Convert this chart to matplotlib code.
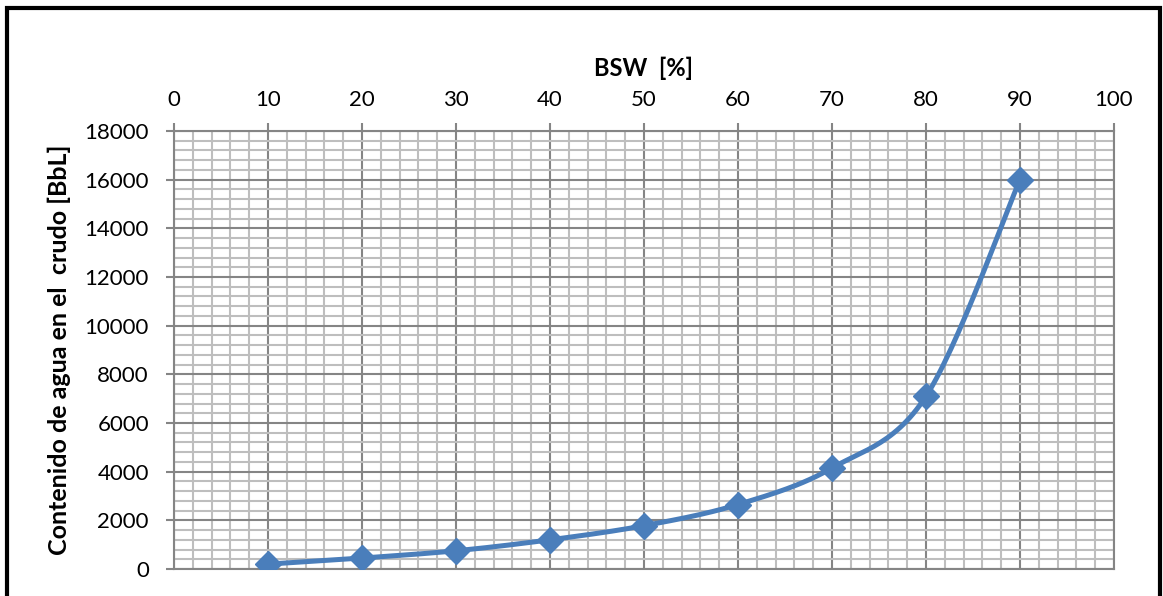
import numpy as np
import matplotlib
matplotlib.use("Agg")
import matplotlib.pyplot as plt
from matplotlib.patches import Rectangle
from matplotlib.ticker import MultipleLocator

bsw = [10, 20, 30, 40, 50, 60, 70, 80, 90]
agua = [200, 450, 750, 1200, 1780, 2650, 4150, 7100, 16000]


def smooth_curve(x, y, n=30):
    # Catmull-Rom style bezier through the points (like a spreadsheet smoothed line)
    x = np.asarray(x, float)
    y = np.asarray(y, float)
    px = np.concatenate([[x[0]], x, [x[-1]]])
    py = np.concatenate([[y[0]], y, [y[-1]]])
    xs, ys = [], []
    t = np.linspace(0, 1, n)
    for i in range(1, len(px) - 2):
        p0 = np.array([px[i], py[i]])
        p3 = np.array([px[i + 1], py[i + 1]])
        c1 = p0 + (np.array([px[i + 1], py[i + 1]]) - np.array([px[i - 1], py[i - 1]])) / 6
        c2 = p3 - (np.array([px[i + 2], py[i + 2]]) - np.array([px[i], py[i]])) / 6
        b = ((1 - t) ** 3)[:, None] * p0 + (3 * (1 - t) ** 2 * t)[:, None] * c1 \
            + (3 * (1 - t) * t ** 2)[:, None] * c2 + (t ** 3)[:, None] * p3
        xs.extend(b[:, 0])
        ys.extend(b[:, 1])
    return xs, ys


plt.rcParams['font.family'] = ['Lato', 'DejaVu Sans']

fig = plt.figure(figsize=(11.63, 5.96), dpi=100)
ax = fig.add_axes([174 / 1163, 1 - 569 / 596, (1114 - 174) / 1163, (569 - 131) / 596])

sx, sy = smooth_curve(bsw, agua)
ax.plot(sx, sy, color='#4A7EBB', lw=3.6, solid_capstyle='round', zorder=3)
ax.plot(bsw, agua, ls='none', marker='D', ms=13, color='#4A7EBB', zorder=4)

ax.set_xlim(0, 100)
ax.set_ylim(0, 18000)
ax.xaxis.set_major_locator(MultipleLocator(10))
ax.xaxis.set_minor_locator(MultipleLocator(2))
ax.yaxis.set_major_locator(MultipleLocator(2000))
ax.yaxis.set_minor_locator(MultipleLocator(400))
ax.grid(which='major', color='#858585', lw=1.5, zorder=1)
ax.grid(which='minor', color='#BEBEBE', lw=1.5, zorder=0)
ax.set_axisbelow(True)

ax.xaxis.tick_top()
ax.xaxis.set_label_position('top')
ax.tick_params(which='major', length=6, width=1.5, color='#858585', labelsize=16)
ax.tick_params(axis='y', pad=12)
ax.tick_params(axis='x', pad=9)
ax.tick_params(which='minor', length=0)
for side in ['left', 'top', 'right', 'bottom']:
    ax.spines[side].set_color('#858585')
    ax.spines[side].set_linewidth(1.5)

ax.set_xlabel('BSW  [%]', fontsize=17, fontweight='bold', labelpad=10)
ax.set_ylabel('Contenido de agua en el  crudo [BbL]', fontsize=18, fontweight='bold', labelpad=10)

# outer frame around the chart area
fig.patches.append(Rectangle((7 / 1163, -0.05), (1160 - 7) / 1163, 1.05 - 8 / 596,
                             transform=fig.transFigure, fill=False, lw=3, ec='black'))

fig.savefig('out.png', dpi=100)
